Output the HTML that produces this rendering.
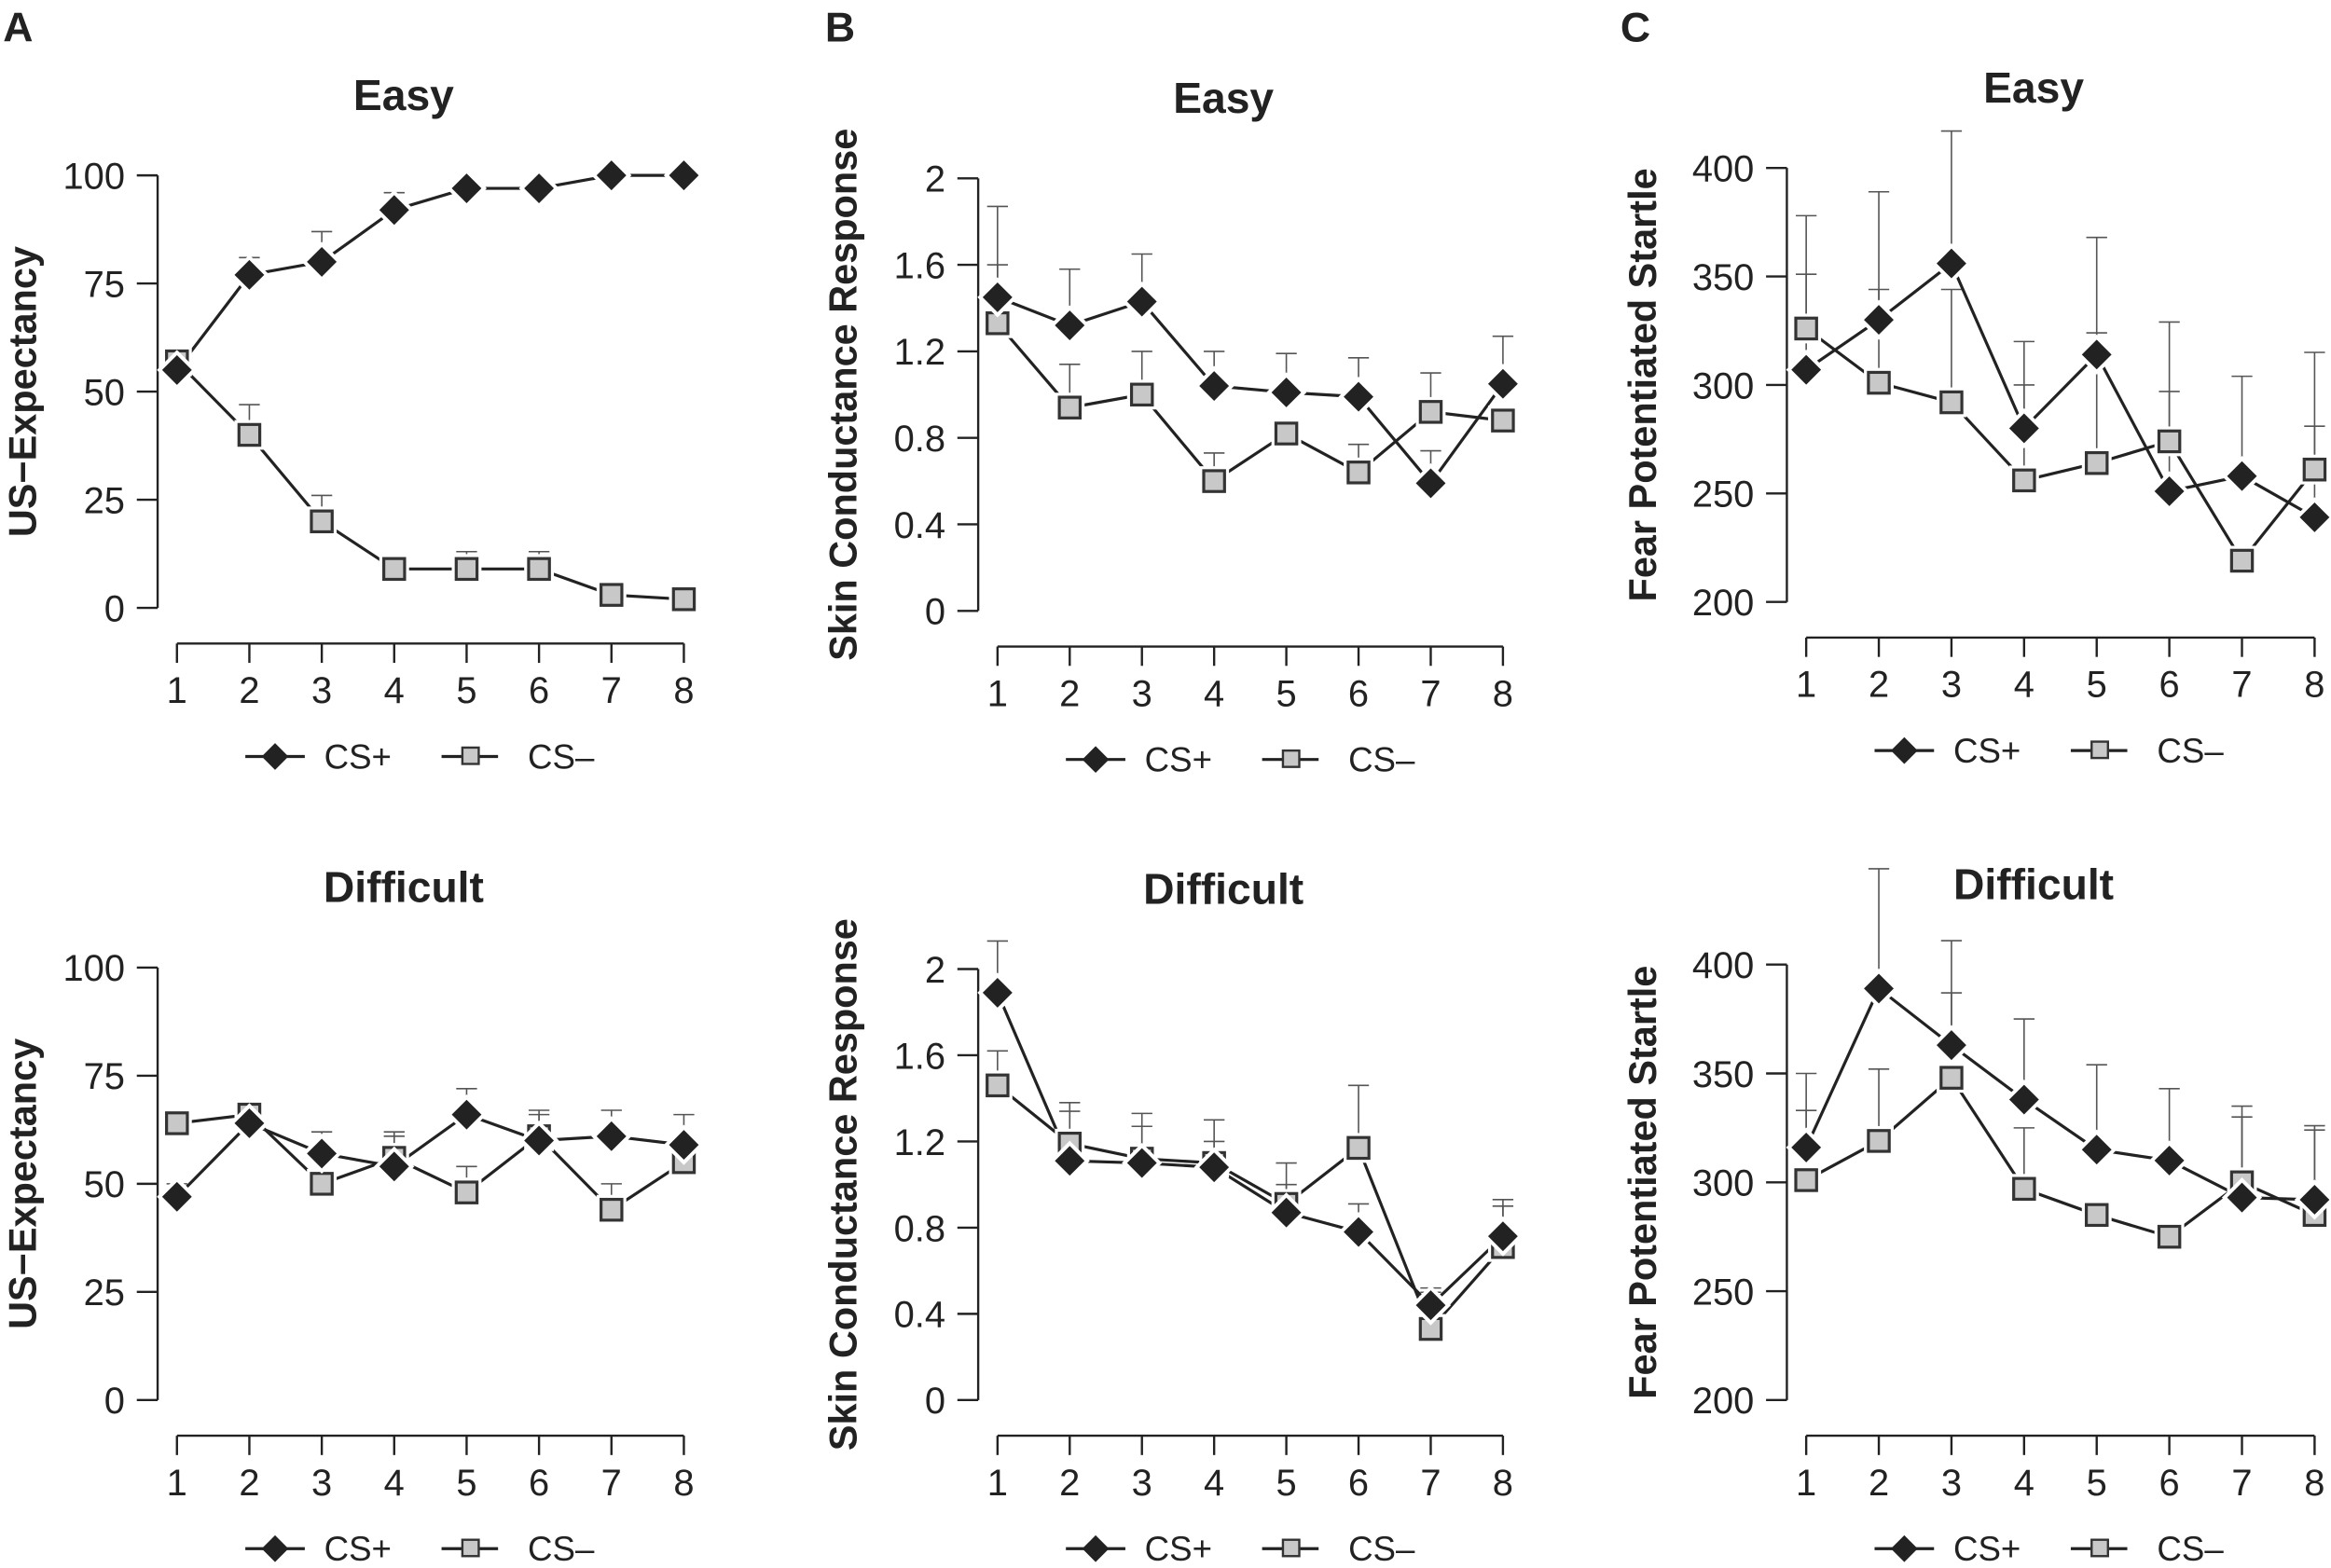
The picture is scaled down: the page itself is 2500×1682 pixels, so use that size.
<!DOCTYPE html>
<html><head><meta charset="utf-8"><style>
html,body{margin:0;padding:0;background:#fff;}
svg{display:block;}
text{font-family:"Liberation Sans",Arial,sans-serif;fill:#222;}
</style></head><body>
<svg id="s" width="2500" height="1682" viewBox="0 0 1568 1055" xmlns="http://www.w3.org/2000/svg"></svg>
<script>
const S=document.getElementById('s');let h='';
function P(o){
 const dx=(o.x8-o.x0)/7, ax=o.x0-13;
 const Y=v=>o.bot+(v-o.vmin)/(o.vmax-o.vmin)*(o.top-o.bot);
 const X=i=>o.x0+i*dx;
 const xa=o.bot+24;
 h+=`<path d="M${ax} ${o.top}V${o.bot}" stroke="#222" stroke-width="1.5" fill="none"/>`;
 o.ticks.forEach((t,i)=>{const y=Y(t.v);h+=`<path d="M${ax-14} ${y}H${ax}" stroke="#222" stroke-width="1.5"/><text x="${ax-22}" y="${y+9}" font-size="25" text-anchor="end">${t.l}</text>`;});
 h+=`<path d="M${X(0)} ${xa}H${X(7)}" stroke="#222" stroke-width="1.5"/>`;
 for(let i=0;i<8;i++){h+=`<path d="M${X(i)} ${xa}V${xa+13}" stroke="#222" stroke-width="1.5"/><text x="${X(i)}" y="${xa+40}" font-size="25" text-anchor="middle">${i+1}</text>`;}
 h+=`<text x="${(X(0)+X(7))/2-18}" y="${o.top-44}" font-size="29" font-weight="bold" text-anchor="middle">${o.title}</text>`;
 const ly=(o.top+o.bot)/2;
 h+=`<text transform="translate(${o.ylx},${ly}) rotate(-90)" font-size="26" font-weight="bold" text-anchor="middle">${o.ylab}</text>`;
 [[o.m,o.me],[o.p,o.pe]].forEach(([d,e])=>{d.forEach((v,i)=>{if(e[i]>v){const x=X(i);h+=`<path d="M${x} ${Y(v)}V${Y(e[i])}M${x-7} ${Y(e[i])}H${x+7}" stroke="#555" stroke-width="1"/>`;}});});
 const line=d=>`<polyline points="${d.map((v,i)=>X(i)+','+Y(v)).join(' ')}" fill="none" stroke="#222" stroke-width="2"/>`;
 h+=line(o.m)+line(o.p);
 o.m.forEach((v,i)=>{const x=X(i),y=Y(v);h+=`<rect x="${x-7}" y="${y-7}" width="14" height="14" fill="#c8c8c8" stroke="#fff" stroke-width="6"/><rect x="${x-7}" y="${y-7}" width="14" height="14" fill="#c8c8c8" stroke="#333" stroke-width="2"/>`;});
 o.p.forEach((v,i)=>{const x=X(i),y=Y(v);const d=`M${x} ${y-10}L${x+10} ${y}L${x} ${y+10}L${x-10} ${y}Z`;h+=`<path d="${d}" fill="#222" stroke="#fff" stroke-width="5"/><path d="${d}" fill="#222"/>`;});
 const lx=o.x0+46, lgy=xa+76;
 h+=`<path d="M${lx} ${lgy}H${lx+40}" stroke="#222" stroke-width="2"/><path d="M${lx+20} ${lgy-9}L${lx+29} ${lgy}L${lx+20} ${lgy+9}L${lx+11} ${lgy}Z" fill="#222"/><text x="${lx+53}" y="${lgy+8}" font-size="23">CS+</text>`;
 const l2=lx+132;
 h+=`<path d="M${l2} ${lgy}H${l2+38}" stroke="#222" stroke-width="2"/><rect x="${l2+14}" y="${lgy-6}" width="11" height="11" fill="#c8c8c8" stroke="#333" stroke-width="1.5"/><text x="${l2+58}" y="${lgy+8}" font-size="23">CS–</text>`;
}
const tA=[0,25,50,75,100].map(v=>({v,l:v})), tB=[0,0.4,0.8,1.2,1.6,2].map(v=>({v,l:v})), tC=[200,250,300,350,400].map(v=>({v,l:v}));
P({x0:119,x8:460,top:118,bot:409,vmin:0,vmax:100,ticks:tA,title:'Easy',ylab:'US−Expectancy',ylx:24,
 p:[55,77,80,92,97,97,100,100],pe:[55,81,87,96,98,98,100,100],
 m:[57,40,20,9,9,9,3,2],me:[57,47,26,12,13,13,6,4]});
P({x0:119,x8:460,top:651,bot:942,vmin:0,vmax:100,ticks:tA,title:'Difficult',ylab:'US−Expectancy',ylx:24,
 p:[47,64,57,54,66,60,61,59],pe:[50,68,62,62,72,67,67,66],
 m:[64,66,50,56,48,61,44,55],me:[67,69,50,61,54,66,50,55]});
P({x0:671,x8:1011,top:120,bot:411,vmin:0,vmax:2,ticks:tB,title:'Easy',ylab:'Skin Conductance Response',ylx:576,
 p:[1.45,1.32,1.43,1.04,1.01,0.99,0.59,1.05],pe:[1.87,1.58,1.65,1.20,1.19,1.17,0.74,1.27],
 m:[1.33,0.94,1.0,0.6,0.82,0.64,0.92,0.88],me:[1.60,1.14,1.20,0.73,0.82,0.77,1.10,0.88]});
P({x0:671,x8:1011,top:652,bot:942,vmin:0,vmax:2,ticks:tB,title:'Difficult',ylab:'Skin Conductance Response',ylx:576,
 p:[1.89,1.11,1.10,1.08,0.87,0.78,0.44,0.76],pe:[2.13,1.34,1.27,1.30,1.0,0.91,0.52,0.93],
 m:[1.46,1.19,1.12,1.10,0.91,1.17,0.33,0.71],me:[1.62,1.38,1.33,1.2,1.10,1.46,0.5,0.9]});
P({x0:1215,x8:1557,top:113,bot:405,vmin:200,vmax:400,ticks:tC,title:'Easy',ylab:'Fear Potentiated Startle',ylx:1114,
 p:[307,330,356,280,314,251,258,239],pe:[351,389,417,320,368,297,304,281],
 m:[326,301,292,256,264,274,219,261],me:[378,344,344,300,324,329,219,315]});
P({x0:1215,x8:1557,top:649,bot:942,vmin:200,vmax:400,ticks:tC,title:'Difficult',ylab:'Fear Potentiated Startle',ylx:1114,
 p:[316,389,363,338,315,310,293,292],pe:[350,444,411,375,354,343,335,326],
 m:[301,319,348,297,285,275,300,285],me:[333,352,387,325,285,275,330,324]});
h+=`<text x="2" y="28" font-size="28" font-weight="bold">A</text><text x="555" y="28" font-size="28" font-weight="bold">B</text><text x="1090" y="28" font-size="28" font-weight="bold">C</text>`;
S.innerHTML=h;
</script>
</body></html>
